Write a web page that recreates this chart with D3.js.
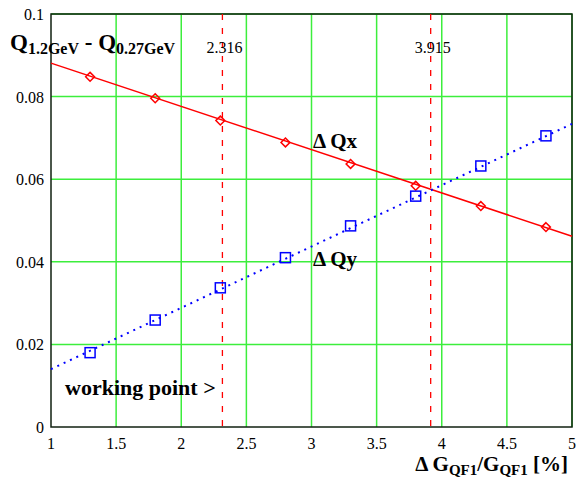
<!DOCTYPE html>
<html>
<head>
<meta charset="utf-8">
<script src="https://cdn.jsdelivr.net/npm/d3@7"></script>
<style>
  body { margin: 0; background: #fff; }
  text { font-family: "Liberation Serif", "DejaVu Serif", serif; }
</style>
</head>
<body>
<div id="chart"></div>
<script>
// measured points
const dG = [1.3, 1.8, 2.3, 2.8, 3.3, 3.8, 4.3, 4.8]
const dQx = [0.0848, 0.0796, 0.0742, 0.0689, 0.0637, 0.0584, 0.0535, 0.0484]
const dQy = [0.0180, 0.0259, 0.0337, 0.0410, 0.0487, 0.0559, 0.0632, 0.0705]

// fitted lines (end points)
const fitG = [1, 5]
const fitQx = [0.0881, 0.0462]
const fitQy = [0.0140, 0.0734]

// crossing markers
const marks = [2.316, 3.915]

const xTicks = [1, 1.5, 2, 2.5, 3, 3.5, 4, 4.5, 5]
const yTicks = [0, 0.02, 0.04, 0.06, 0.08, 0.1]

const width = 578
const height = 480

const x = d3.scaleLinear().domain([1, 5]).range([51, 572])
const y = d3.scaleLinear().domain([0, 0.1]).range([427, 14])

const svg = d3.select("#chart").append("svg")
  .attr("width", width)
  .attr("height", height)

const green = "#3cee3c"

// grid
svg.append("g").selectAll("line")
  .data(xTicks.slice(1))
  .enter().append("line")
  .attr("x1", d => x(d)).attr("x2", d => x(d))
  .attr("y1", y(0)).attr("y2", y(0.1))
  .attr("stroke", green).attr("stroke-width", 1.5)

svg.append("g").selectAll("line")
  .data(yTicks.slice(1))
  .enter().append("line")
  .attr("x1", x(1)).attr("x2", x(5))
  .attr("y1", d => y(d)).attr("y2", d => y(d))
  .attr("stroke", green).attr("stroke-width", 1.5)

// frame
svg.append("rect")
  .attr("x", x(1)).attr("y", y(0.1))
  .attr("width", x(5) - x(1)).attr("height", y(0) - y(0.1))
  .attr("fill", "none").attr("stroke", "#102010").attr("stroke-width", 1.5)

// tick labels
svg.append("g").selectAll("text")
  .data(yTicks)
  .enter().append("text")
  .attr("x", 44).attr("y", d => y(d) + 6)
  .attr("text-anchor", "end")
  .attr("font-size", 16)
  .text(d => d3.format("")(d))

svg.append("g").selectAll("text")
  .data(xTicks)
  .enter().append("text")
  .attr("x", d => x(d)).attr("y", 449)
  .attr("text-anchor", "middle")
  .attr("font-size", 16)
  .text(d => d)

// red dashed verticals
svg.append("g").selectAll("line")
  .data(marks)
  .enter().append("line")
  .attr("x1", d => x(d)).attr("x2", d => x(d))
  .attr("y1", y(0.1)).attr("y2", y(0))
  .attr("stroke", "red").attr("stroke-width", 1.3)
  .attr("stroke-dasharray", "6,8")

svg.append("g").selectAll("text")
  .data(marks)
  .enter().append("text")
  .attr("x", d => x(d) + 2).attr("y", 53)
  .attr("text-anchor", "middle")
  .attr("font-size", 16)
  .text(d => d)

const line = d3.line().x(d => x(d[0])).y(d => y(d[1]))

// Qx
svg.append("path")
  .datum(d3.zip(fitG, fitQx))
  .attr("d", line)
  .attr("fill", "none").attr("stroke", "red").attr("stroke-width", 1.5)

svg.append("g").selectAll("path")
  .data(d3.zip(dG, dQx))
  .enter().append("path")
  .attr("d", d3.symbol(d3.symbolDiamond2, 50))
  .attr("transform", d => `translate(${x(d[0])},${y(d[1])})`)
  .attr("fill", "none").attr("stroke", "red").attr("stroke-width", 1.5)

// Qy
svg.append("path")
  .datum(d3.zip(fitG, fitQy))
  .attr("d", line)
  .attr("fill", "none").attr("stroke", "blue").attr("stroke-width", 2)
  .attr("stroke-dasharray", "2,5")

svg.append("g").selectAll("rect")
  .data(d3.zip(dG, dQy))
  .enter().append("rect")
  .attr("x", d => x(d[0]) - 5).attr("y", d => y(d[1]) - 5)
  .attr("width", 10).attr("height", 10)
  .attr("fill", "none").attr("stroke", "blue").attr("stroke-width", 1.5)

// labels
const title = svg.append("text")
  .attr("x", 10).attr("y", 50)
  .attr("font-weight", "bold").attr("font-size", 23)
title.append("tspan").text("Q")
title.append("tspan").attr("font-size", 16).attr("dy", 4).text("1.2GeV")
title.append("tspan").attr("dy", -4).text(" - Q")
title.append("tspan").attr("font-size", 16).attr("dy", 4).text("0.27GeV")

svg.append("text")
  .attr("x", 313).attr("y", 148)
  .attr("font-weight", "bold").attr("font-size", 21)
  .text("\u0394 Qx")

svg.append("text")
  .attr("x", 313).attr("y", 266)
  .attr("font-weight", "bold").attr("font-size", 21)
  .text("\u0394 Qy")

svg.append("text")
  .attr("x", 65).attr("y", 395)
  .attr("font-weight", "bold").attr("font-size", 22)
  .text("working point >")

const xl = svg.append("text")
  .attr("x", 568).attr("y", 471)
  .attr("text-anchor", "end")
  .attr("font-weight", "bold").attr("font-size", 21)
xl.append("tspan").text("\u0394 G")
xl.append("tspan").attr("font-size", 15).attr("dy", 4).text("QF1")
xl.append("tspan").attr("dy", -4).text("/G")
xl.append("tspan").attr("font-size", 15).attr("dy", 4).text("QF1")
xl.append("tspan").attr("dy", -4).text(" [%]")
</script>
</body>
</html>
